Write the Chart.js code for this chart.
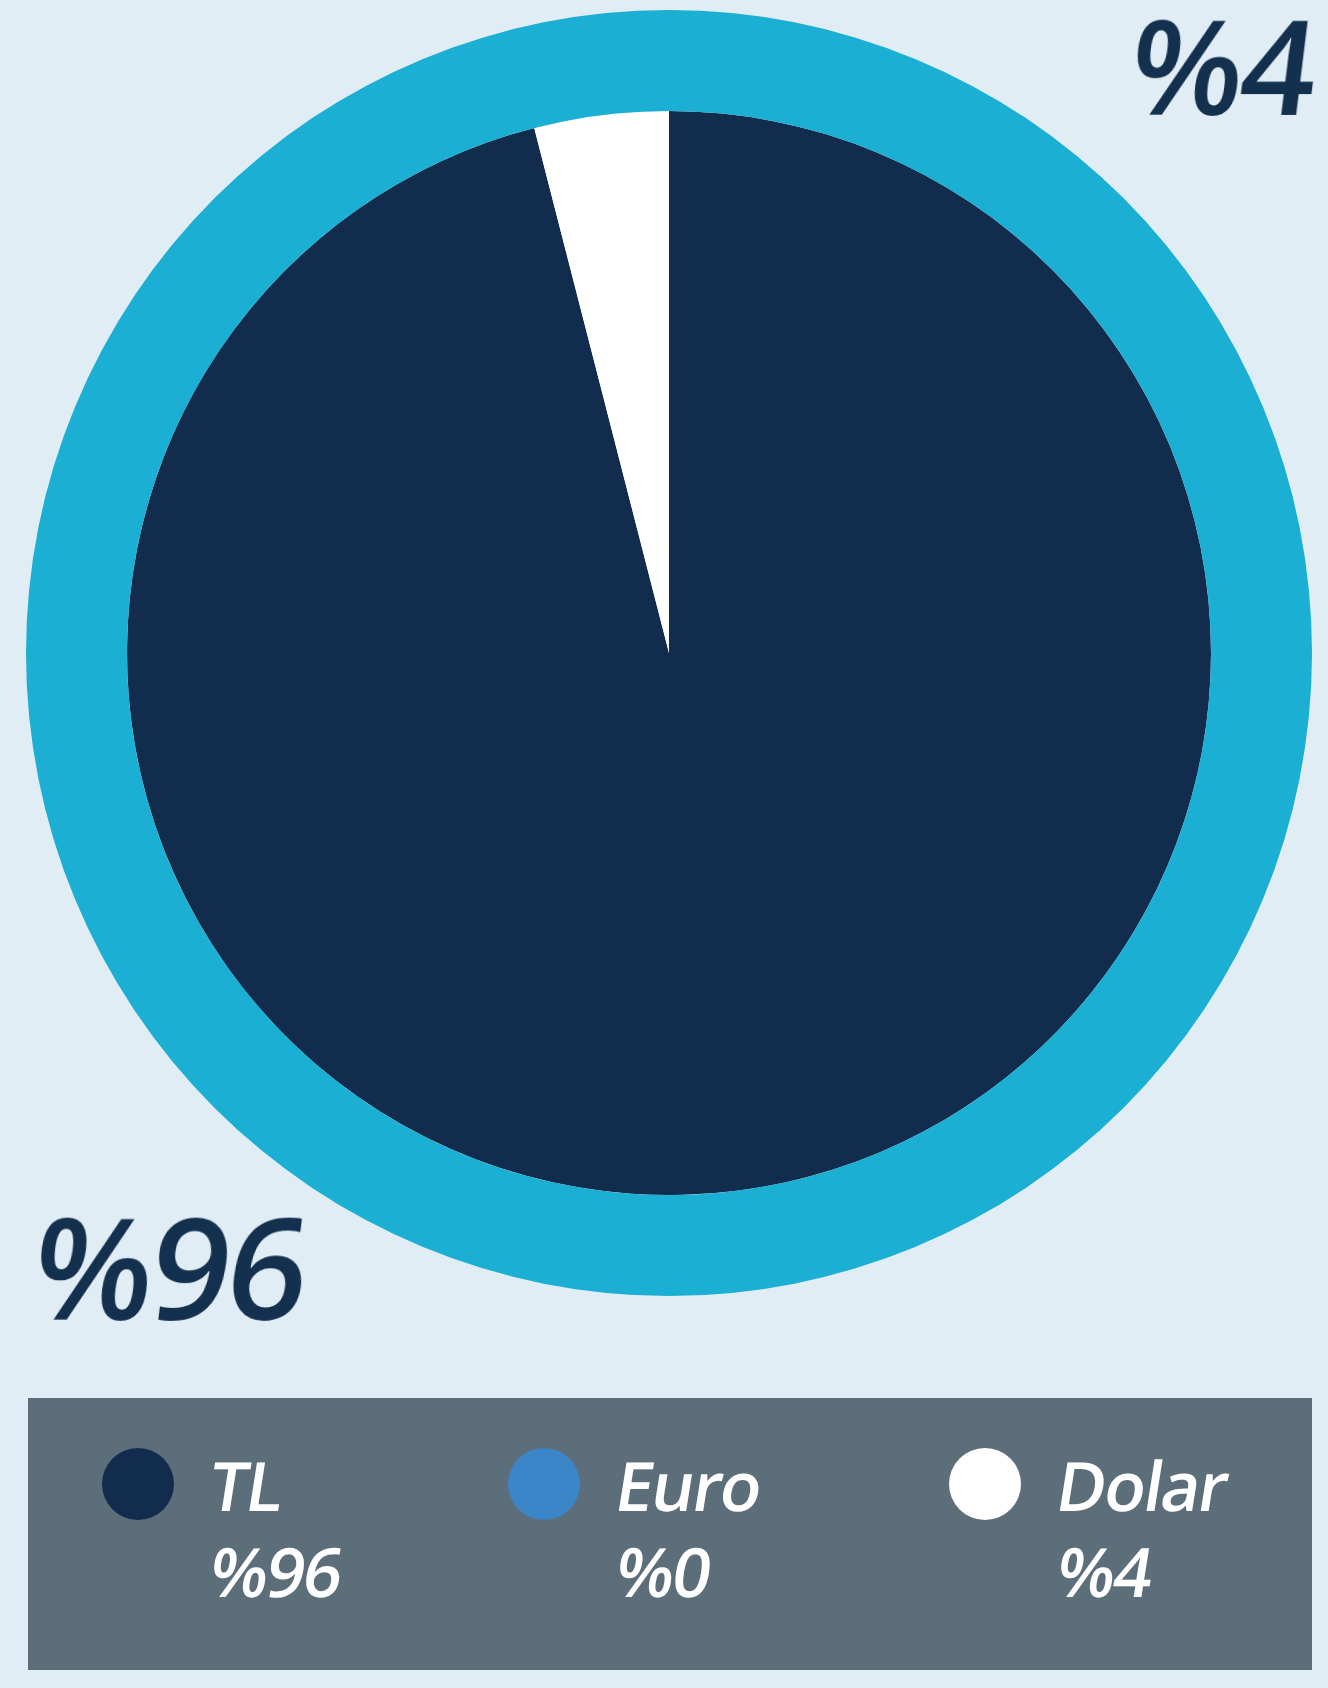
<!DOCTYPE html>
<html lang="tr">
<head>
  <meta charset="UTF-8" />
  <title>Döviz Dağılımı</title>
  <script src="https://cdn.jsdelivr.net/npm/chart.js"></script>
  <style>
    html, body { margin: 0; padding: 0; }
    body { width: 1328px; height: 1688px; background: #e1edf4; position: relative; overflow: hidden; font-family: "Open Sans", "Noto Sans", sans-serif; }
    #chartBox { position: absolute; left: 26px; top: 10px; width: 1286px; height: 1286px; }
    .big { position: absolute; color: #14304f; font-weight: 600; line-height: 1; letter-spacing: -3px; transform: skewX(-7deg); }
    #lblDolar { right: 14px; top: -2px; font-size: 132px; }
    #lblTL { left: 34px; top: 1196px; font-size: 140px; }
    #legend { position: absolute; left: 28px; top: 1398px; width: 1284px; height: 272px; background: #5d6e7b; }
    .item { position: absolute; top: 50px; }
    .dot { position: absolute; left: 0; top: 0; width: 72px; height: 72px; border-radius: 50%; }
    .ln { position: absolute; left: 106px; color: #fff; font-weight: 600; font-size: 68px; line-height: 86px; white-space: nowrap; letter-spacing: -2px; transform: skewX(-9deg); transform-origin: left 70%; }
    .ln.a { top: -6px; }
    .ln.b { top: 80px; }
  </style>
</head>
<body>
  <div id="chartBox"><canvas id="pie"></canvas></div>
  <div class="big" id="lblDolar"></div>
  <div class="big" id="lblTL"></div>
  <div id="legend"></div>

<script>
// currency shares (percent)
const labels = ['TL', 'Euro', 'Dolar'];
const values = [96, 0, 4];
const colors = ['#112c4c', '#3a86c8', '#ffffff'];
const ringColor = '#1bafd3';
const legendLeft = [74, 480, 921];

new Chart(document.getElementById('pie'), {
  type: 'doughnut',
  data: {
    labels,
    datasets: [
      { data: [100], backgroundColor: [ringColor], borderWidth: 0, weight: 101 },
      { data: values, backgroundColor: colors, borderWidth: 0, weight: 542 }
    ]
  },
  options: {
    responsive: true,
    maintainAspectRatio: false,
    animation: false,
    cutout: 0,
    layout: { padding: 0 },
    plugins: { legend: { display: false }, tooltip: { enabled: false } }
  }
});

document.getElementById('lblDolar').textContent = '%' + values[2];
document.getElementById('lblTL').textContent = '%' + values[0];

const legend = document.getElementById('legend');
labels.forEach((l, i) => {
  const item = document.createElement('div');
  item.className = 'item';
  item.style.left = legendLeft[i] + 'px';
  item.innerHTML = `<div class="dot" style="background:${colors[i]}"></div>
    <div class="ln a">${l}</div><div class="ln b">%${values[i]}</div>`;
  legend.appendChild(item);
});
</script>
</body>
</html>
